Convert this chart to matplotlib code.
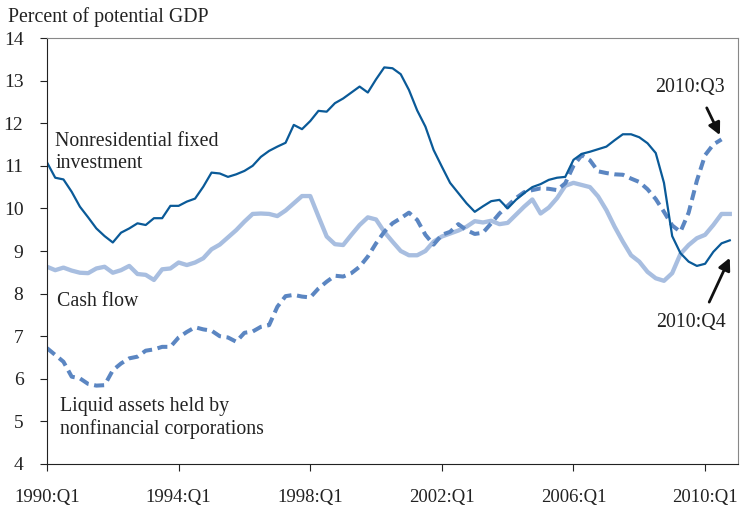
import numpy as np
import matplotlib.pyplot as plt

plt.rcParams['font.family'] = ['Liberation Serif', 'DejaVu Serif']

# quarterly, 1990:Q1 .. 2010:Q4
quarters = np.arange(84)

nonres_investment = [
    11.08, 10.72, 10.68, 10.39, 10.04, 9.79, 9.53, 9.35, 9.2, 9.43,
    9.53, 9.65, 9.61, 9.77, 9.77, 10.06, 10.06, 10.16, 10.23, 10.51,
    10.84, 10.82, 10.74, 10.8, 10.88, 11.0, 11.21, 11.35, 11.45, 11.54,
    11.96, 11.86, 12.05, 12.29, 12.27, 12.47, 12.58, 12.72, 12.86, 12.72,
    13.03, 13.31, 13.29, 13.15, 12.78, 12.3, 11.92, 11.37, 10.98, 10.6,
    10.36, 10.12, 9.92, 10.05, 10.17, 10.2, 10.0, 10.2, 10.36, 10.5,
    10.57, 10.67, 10.72, 10.74, 11.14, 11.28, 11.33, 11.39, 11.45, 11.6,
    11.74, 11.74, 11.67, 11.53, 11.3, 10.6, 9.35, 8.95, 8.75, 8.65,
    8.7, 8.98, 9.18, 9.25,
]

cash_flow = [
    8.63, 8.55, 8.61, 8.54, 8.49, 8.48, 8.59, 8.63, 8.49, 8.55,
    8.65, 8.46, 8.44, 8.32, 8.57, 8.59, 8.73, 8.67, 8.73, 8.83,
    9.04, 9.15, 9.32, 9.49, 9.69, 9.87, 9.88, 9.87, 9.82, 9.95,
    10.12, 10.29, 10.29, 9.81, 9.34, 9.16, 9.14, 9.38, 9.61, 9.79,
    9.74, 9.45, 9.22, 9.0, 8.9, 8.9, 9.0, 9.22, 9.34, 9.41,
    9.48, 9.57, 9.7, 9.67, 9.71, 9.63, 9.66, 9.85, 10.04, 10.21,
    9.88, 10.02, 10.24, 10.53, 10.6, 10.55, 10.5, 10.28, 9.96, 9.57,
    9.22, 8.9, 8.75, 8.51, 8.36, 8.3, 8.48, 8.93, 9.14, 9.3,
    9.38, 9.61, 9.87, 9.87,
]

# ends at 2010:Q3
liquid_assets = [
    6.72, 6.56, 6.4, 6.05, 6.01, 5.88, 5.84, 5.85, 6.2, 6.36,
    6.48, 6.52, 6.66, 6.69, 6.75, 6.75, 6.97, 7.1, 7.21, 7.16,
    7.13, 7.0, 6.97, 6.87, 7.08, 7.11, 7.22, 7.26, 7.69, 7.94,
    7.97, 7.93, 7.91, 8.12, 8.28, 8.42, 8.4, 8.48, 8.63, 8.87,
    9.18, 9.45, 9.65, 9.77, 9.9, 9.73, 9.38, 9.15, 9.38, 9.45,
    9.63, 9.49, 9.4, 9.43, 9.65, 9.88, 10.06, 10.24, 10.38, 10.43,
    10.47, 10.46, 10.43, 10.59, 11.0, 11.25, 11.13, 10.87, 10.83, 10.8,
    10.79, 10.7, 10.62, 10.45, 10.22, 9.92, 9.6, 9.45, 9.9, 10.65,
    11.25, 11.5, 11.62,
]

tick_labels = ['1990:Q1', '1994:Q1', '1998:Q1', '2002:Q1', '2006:Q1', '2010:Q1']

fig = plt.figure(figsize=(7.4, 5.08), dpi=100)
ax = fig.add_axes([47 / 740, 44 / 508, (738 - 47) / 740, (464 - 38) / 508])

ax.plot(quarters, cash_flow, color='#a8bee0', lw=3.1, solid_joinstyle='round')
ax.plot(quarters[:len(liquid_assets)], liquid_assets, color='#5b86c2', lw=2.9,
        dashes=(2.5, 1.4))
ax.plot(quarters, nonres_investment, color='#0a5a98', lw=1.6)

ax.set_xlim(0, 84)
ax.set_ylim(4, 14)
ax.set_xticks(np.arange(0, 84, 16))
ax.set_xticklabels(tick_labels)
ax.set_yticks(np.arange(4, 15, 1))
ax.tick_params(axis='both', direction='out', length=5, width=0.8,
               colors='#222222', labelsize=13.5)
ax.tick_params(axis='x', pad=13)
ax.tick_params(axis='y', pad=12, labelsize=14)
for side in ['left', 'bottom']:
    ax.spines[side].set_color('#222222')
for side in ['top', 'right']:
    ax.spines[side].set_color('#888888')
    ax.spines[side].set_linewidth(0.8)

fs = 14.3
ax.text(-4.74, 14.49, 'Percent of potential GDP', fontsize=fs, color='#222222',
        va='center', ha='left', clip_on=False)

ax.text(1.0, 11.31, 'Nonresidential fixed\ninvestment', fontsize=fs,
        color='#222222', va='center', ha='left', linespacing=1.2)
ax.text(1.2, 7.82, 'Cash flow', fontsize=fs, color='#222222',
        va='center', ha='left')
ax.text(1.6, 5.07, 'Liquid assets held by\nnonfinancial corporations', fontsize=fs,
        color='#222222', va='center', ha='left', linespacing=1.2)

# end-point callouts
ax.text(78.2, 12.83, '2010:Q3', fontsize=fs, color='#222222',
        ha='center', va='center')
ax.annotate('', xy=(81.8, 11.72), xytext=(80.2, 12.36),
            arrowprops=dict(arrowstyle='-|>', color='#111111', lw=2.0,
                            mutation_scale=18, shrinkA=0, shrinkB=0))
ax.text(78.3, 7.31, '2010:Q4', fontsize=fs, color='#222222',
        ha='center', va='center')
ax.annotate('', xy=(83.0, 8.84), xytext=(80.5, 7.8),
            arrowprops=dict(arrowstyle='-|>', color='#111111', lw=2.0,
                            mutation_scale=18, shrinkA=0, shrinkB=0))

fig.savefig('out.png', dpi=100)
